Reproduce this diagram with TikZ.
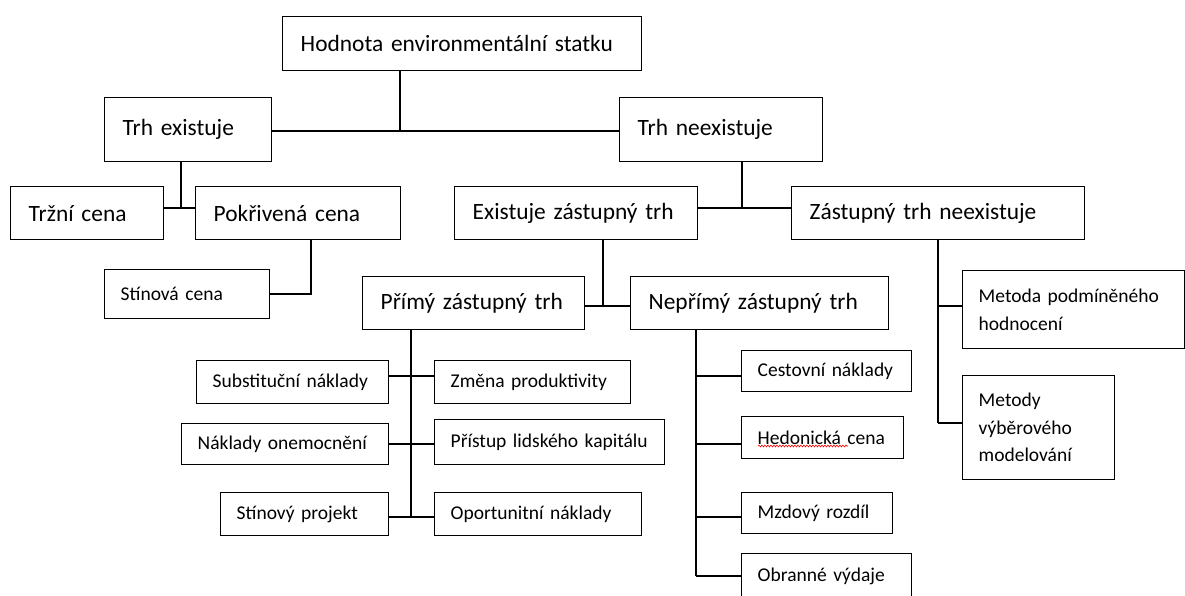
\documentclass[tikz,border=0pt]{standalone}
\usepackage{fontspec}
\setmainfont{Carlito}
\usetikzlibrary{positioning,decorations.pathmorphing}
\newcommand{\boxfont}{\fontsize{23.4}{28}\selectfont}
\newcommand{\leaffont}{\fontsize{19.5}{27.5}\selectfont}
\tikzset{
  link/.style={line width=1.4pt},
  box/.style 2 args={draw, link, anchor=north west, inner ysep=0pt, inner xsep=18pt,
    minimum width=#1pt, minimum height=#2pt, text width=#1pt-36pt, align=left, font=\boxfont},
  leaf/.style 2 args={box={#1}{#2}, inner xsep=16pt, text width=#1pt-32pt, font=\leaffont}
}
\newcommand{\bx}{\node}

\begin{document}
\begin{tikzpicture}[x=1pt, y=-1pt]
\useasboundingbox (0,0) rectangle (1185,595);
% upper levels
\bx[box={359}{54}] (hod) at (282,16) {Hodnota environmentální statku};
\bx[box={167}{64}] (trhA) at (104,97) {Trh existuje};
\bx[box={203}{64}] (trhN) at (619,97) {Trh neexistuje};
\bx[box={153}{53}] (trz) at (10,186) {Tržní cena};
\bx[box={205}{53}] (pok) at (195,186) {Pokřivená cena};
\bx[box={243}{53}] (ext) at (454,186) {Existuje zástupný trh};
\bx[box={293}{53}] (zneex) at (791,186) {Zástupný trh neexistuje};
\bx[leaf={165}{49}] (stin) at (104,269) {Stínová cena};
\bx[box={222}{53}] (prim) at (362,276) {Přímý zástupný trh};
\bx[box={258}{53}] (nep) at (630,276) {Nepřímý zástupný trh};
\bx[leaf={222}{78}] (metA) at (962,270) {Metoda podmíněného\\hodnocení};
\bx[leaf={152}{104}] (metB) at (962,375) {Metody\\výběrového\\modelování};
% direct surrogate market
\bx[leaf={192}{43}] (sub) at (196,360) {Substituční náklady};
\bx[leaf={196}{43}] (zm) at (434,360) {Změna produktivity};
\bx[leaf={207}{41}] (nak) at (181,423) {Náklady onemocnění};
\bx[leaf={230}{45}] (pri) at (434,419) {Přístup lidského kapitálu};
\bx[leaf={168}{43}] (sprj) at (220,492) {Stínový projekt};
\bx[leaf={207}{43}] (opo) at (434,492) {Oportunitní náklady};
% indirect surrogate market
\bx[leaf={170}{41}] (ces) at (741,350) {Cestovní náklady};
\bx[leaf={162}{42}] (hed) at (741,416) {Hedonická cena};
\bx[leaf={151}{41}] (mzd) at (741,492) {Mzdový rozdíl};
\bx[leaf={170}{45}] (obr) at (741,553) {Obranné výdaje};
\draw[red, line width=0.6pt, decorate, decoration={snake, amplitude=0.9pt, segment length=3pt}]
  (758,446) -- (848,446);

% junctions
\coordinate (j1) at (400,131);
\coordinate (j2) at (181,208);
\coordinate (j3) at (311,294);
\coordinate (j4) at (742,208);
\coordinate (j5) at (603,306);
\coordinate (j6) at (938,306);
\coordinate (j7) at (938,423);
\coordinate (p1) at (411,376);
\coordinate (p2) at (411,444);
\coordinate (p3) at (411,517);
\coordinate (n1) at (696,376);
\coordinate (n2) at (696,444);
\coordinate (n3) at (696,517);
\coordinate (n4) at (696,576);

\draw[link] (hod.south -| j1) -- (j1);
\draw[link] (trhA.east |- j1) -- (trhN.west |- j1);
\draw[link] (trhA.south -| j2) -- (j2);
\draw[link] (trz.east |- j2) -- (pok.west |- j2);
\draw[link] (pok.south -| j3) -- (j3) -- (stin.east |- j3);
\draw[link] (trhN.south -| j4) -- (j4);
\draw[link] (ext.east |- j4) -- (zneex.west |- j4);
\draw[link] (ext.south -| j5) -- (j5);
\draw[link] (prim.east |- j5) -- (nep.west |- j5);
\draw[link] (zneex.south -| j6) -- (j7);
\draw[link] (j6) -- (metA.west |- j6);
\draw[link] (j7) -- (metB.west |- j7);

\draw[link] (prim.south -| p1) -- (p3);
\foreach \l/\r/\p in {sub/zm/p1, nak/pri/p2, sprj/opo/p3}
  \draw[link] (\l.east |- \p) -- (\r.west |- \p);

\draw[link] (nep.south -| n1) -- (n4);
\foreach \b/\p in {ces/n1, hed/n2, mzd/n3, obr/n4}
  \draw[link] (\p) -- (\b.west |- \p);
\end{tikzpicture}
\end{document}
